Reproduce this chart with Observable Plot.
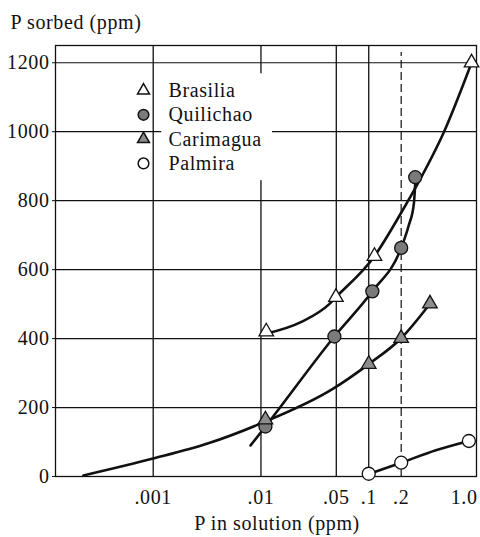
<!DOCTYPE html>
<html><head><meta charset="utf-8">
<script src="https://cdn.jsdelivr.net/npm/d3@7"></script>
<script src="https://cdn.jsdelivr.net/npm/@observablehq/plot@0.6"></script>
<style>body{margin:0;background:#fff}</style>
</head><body><div id="chart"></div>
<script>
// ticks
const xTicks = [0.001, 0.01, 0.05, 0.1, 0.2, 1.0];
const xTickLabels = [".001", ".01", ".05", ".1", ".2", "1.0"];
const yTicks = [0, 200, 400, 600, 800, 1000, 1200];
const solidGridX = [0.001, 0.01, 0.05, 0.1];
const dashedGridX = [0.2];
const gridY = [200, 400, 600, 800, 1000, 1200];

// legend
const seriesNames = ["Brasilia", "Quilichao", "Carimagua", "Palmira"];

// measured points (x = P in solution ppm, y = P sorbed ppm)
const brasiliaX = [0.0112, 0.0496, 0.113, 0.9];
const brasiliaY = [420, 520, 639, 1200];
const quilichaoX = [0.011, 0.048, 0.108, 0.2, 0.27];
const quilichaoY = [145, 406, 537, 663, 868];
const carimaguaX = [0.011, 0.1, 0.2, 0.37];
const carimaguaY = [165, 326, 401, 501];
const palmiraX = [0.1, 0.2, 0.85];
const palmiraY = [8, 40, 103];

// fitted curves
const brasiliaCurveX = [0.0105, 0.024, 0.043, 0.0496, 0.113, 0.2, 0.28, 0.5, 0.9];
const brasiliaCurveY = [412, 449, 500, 520, 639, 765, 845, 1000, 1200];
const quilichaoCurveX = [0.008, 0.011, 0.048, 0.108, 0.2, 0.235, 0.262, 0.272];
const quilichaoCurveY = [90, 145, 406, 537, 663, 728, 790, 868];
const carimaguaCurveX = [0.000225, 0.001, 0.0033, 0.01, 0.0464, 0.1, 0.2, 0.37];
const carimaguaCurveY = [3, 52, 97, 154, 254, 326, 401, 501];
const palmiraCurveX = [0.1, 0.2, 0.42, 0.85];
const palmiraCurveY = [7, 40, 76, 103];

const zip = (xs, ys) => xs.map((x, i) => ({x, y: ys[i]}));

const seriesStyle = [
  {symbol: "triangle", fill: "white", r: 5.4},
  {symbol: "circle", fill: "#7a7a7a", r: 6.5},
  {symbol: "triangle", fill: "#8c8c8c", r: 5.4},
  {symbol: "circle", fill: "white", r: 6.5}
];
const pts = [zip(brasiliaX, brasiliaY), zip(quilichaoX, quilichaoY), zip(carimaguaX, carimaguaY), zip(palmiraX, palmiraY)];
const curves = [zip(brasiliaCurveX, brasiliaCurveY), zip(quilichaoCurveX, quilichaoCurveY), zip(carimaguaCurveX, carimaguaCurveY), zip(palmiraCurveX, palmiraCurveY)];

// legend blank area (behind legend text)
const legendBlank = [{x1: 0.0012, x2: 0.0128, y1: 858, y2: 1168}];

const font = "'Liberation Serif', 'DejaVu Serif', serif";

const marks = [
  Plot.ruleY(gridY, {stroke: "#111", strokeWidth: 1.2}),
  Plot.ruleX(solidGridX, {stroke: "#111", strokeWidth: 1.3}),
  Plot.ruleX(dashedGridX, {y1: 0, y2: 1230, stroke: "#111", strokeWidth: 1.2, strokeDasharray: "8,4"}),
  Plot.rect(legendBlank, {x1: "x1", x2: "x2", y1: "y1", y2: "y2", fill: "white"}),
  Plot.frame({stroke: "#111", strokeWidth: 1.3}),
  Plot.axisY(yTicks, {tickSize: 3, tickPadding: 3, fontSize: 20, label: null, stroke: "#111", tickFormat: d => String(d)}),
  Plot.text(xTicks.slice(0, -1), {x: d => d, text: (d, i) => xTickLabels[i], frameAnchor: "bottom", lineAnchor: "middle", dy: 21, fontSize: 20}),
  Plot.text(xTicks.slice(-1), {x: d => d, text: () => xTickLabels[xTickLabels.length - 1], frameAnchor: "bottom", lineAnchor: "middle", dy: 21, dx: 1, textAnchor: "end", fontSize: 20}),
  Plot.text(["P sorbed (ppm)"], {frameAnchor: "top-left", lineAnchor: "middle", dx: -45, dy: -23, textAnchor: "start", fontSize: 20, letterSpacing: "1.4px"}),
  Plot.text(["P in solution (ppm)"], {frameAnchor: "bottom", lineAnchor: "middle", dx: 11, dy: 47, fontSize: 20, letterSpacing: "1.4px"})
];

curves.forEach(c => marks.push(Plot.line(c, {x: "x", y: "y", curve: "monotone-x", stroke: "#111", strokeWidth: 2.6})));
pts.forEach((p, i) => marks.push(Plot.dot(p, {x: "x", y: "y", symbol: seriesStyle[i].symbol, r: seriesStyle[i].r, fill: seriesStyle[i].fill, stroke: "#111", strokeWidth: 1.3})));

seriesNames.forEach((name, i) => {
  const s = seriesStyle[i];
  marks.push(Plot.dot([name], {frameAnchor: "top-left", dx: 88, dy: 45 + i * 24.3, symbol: s.symbol, r: s.r * 0.82, fill: s.fill, stroke: "#111", strokeWidth: 1.5}));
  marks.push(Plot.text([name], {frameAnchor: "top-left", lineAnchor: "middle", dx: 113, dy: 45 + i * 24.3, textAnchor: "start", fontSize: 20}));
});

const chart = Plot.plot({
  width: 480,
  height: 537,
  marginLeft: 55,
  marginRight: 4,
  marginTop: 45,
  marginBottom: 61,
  x: {type: "log", domain: [1.24e-4, 1.0], axis: null},
  y: {domain: [0, 1250], axis: null},
  style: {fontFamily: font, fontSize: "20px", color: "#111", background: "white", letterSpacing: "0.6px"},
  marks
});
document.getElementById("chart").appendChild(chart);
</script>
</body></html>
